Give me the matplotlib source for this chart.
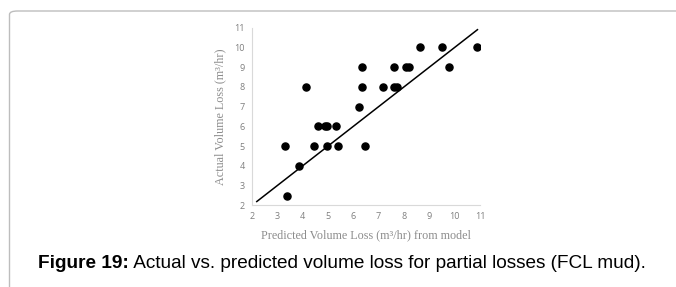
import matplotlib
matplotlib.use("Agg")
import matplotlib.pyplot as plt
from matplotlib.patches import FancyBboxPatch

# predicted (model) vs actual volume loss, m3/hr
predicted = [4.13, 4.60, 4.89, 4.95, 5.31, 6.24, 6.33, 6.33, 7.18, 7.60, 7.60, 7.73,
             8.10, 8.19, 8.63, 9.50, 9.77, 10.88, 3.32, 4.45, 4.95, 5.42, 6.48, 3.86, 3.39]
actual = [8, 6, 6, 6, 6, 7, 9, 8, 8, 9, 8, 8,
          9, 9, 10, 10, 9, 10, 5, 5, 5, 5, 5, 4, 2.5]
line_x = [2.2, 10.9]
line_y = [2.2, 10.9]
ticks = list(range(2, 12))

W, H = 676, 287
fig = plt.figure(figsize=(W / 100, H / 100), dpi=100)

# rounded frame around the figure panel
frame = FancyBboxPatch((9.5 / W, -20 / H), 700 / W, 296 / H,
                       boxstyle="round,pad=0,rounding_size=0.012",
                       transform=fig.transFigure, fill=False,
                       edgecolor="#bdbdbd", linewidth=1.0)
fig.patches.append(frame)

ax = fig.add_axes([251.7 / W, 0.284, 228.3 / W, 0.6195])
ax.scatter(predicted, actual, s=26, color="black", zorder=3)
ax.plot(line_x, line_y, color="black", linewidth=1.1)

ax.set_xlim(2, 11)
ax.set_ylim(2, 11)
ax.set_xticks(ticks)
ax.set_yticks(ticks)
ax.tick_params(length=0, labelsize=6.5, labelcolor="#7f7f7f", pad=5)
for lab in ax.get_xticklabels() + ax.get_yticklabels():
    lab.set_family("Open Sans")
for s in ["top", "right"]:
    ax.spines[s].set_visible(False)
for s in ["left", "bottom"]:
    ax.spines[s].set_color("#d9d9d9")
    ax.spines[s].set_linewidth(0.8)

ax.set_xlabel("Predicted Volume Loss (m³/hr) from model", family="Liberation Serif",
              fontsize=8.7, color="#8c8c8c", labelpad=6)
ax.set_ylabel("Actual Volume Loss (m³/hr)", family="Liberation Serif",
              fontsize=8.7, color="#8c8c8c", labelpad=6)

# caption: bold lead + regular text, fitted to the reference width
cap_y = 1 - 263 / H
left_px, right_px = 38, 647
fs = 11
r = fig.canvas.get_renderer()
t1 = fig.text(0, cap_y, "Figure 19:", fontsize=fs, weight="bold",
              family="Liberation Sans", va="center")
t2 = fig.text(0, cap_y, " Actual vs. predicted volume loss for partial losses (FCL mud).",
              fontsize=fs, family="Liberation Sans", va="center")
w_tot = t1.get_window_extent(r).width + t2.get_window_extent(r).width
fs = fs * (right_px - left_px) / w_tot
t1.set_fontsize(fs)
t2.set_fontsize(fs)
w1 = t1.get_window_extent(r).width
t1.set_x(left_px / W)
t2.set_x((left_px + w1) / W)

fig.savefig("out.png", dpi=100)
